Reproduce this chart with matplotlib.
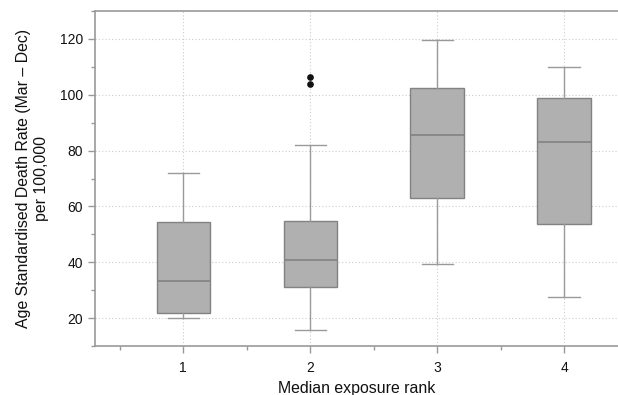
import matplotlib
matplotlib.use("Agg")
import matplotlib.pyplot as plt
from matplotlib.ticker import MultipleLocator

plt.rcParams['font.family'] = ['Liberation Sans', 'DejaVu Sans']

categories = ["1", "2", "3", "4"]
lower_whisker = [20.0, 15.8, 39.3, 27.6]
q1 = [22.0, 31.2, 62.9, 53.6]
median = [33.3, 40.7, 85.7, 83.2]
q3 = [54.3, 54.75, 102.4, 98.7]
upper_whisker = [72.1, 82.1, 119.5, 110.0]
outliers = [[], [103.9, 106.3], [], []]

stats = []
for i, c in enumerate(categories):
    stats.append(dict(label=c, whislo=lower_whisker[i], q1=q1[i], med=median[i],
                      q3=q3[i], whishi=upper_whisker[i], fliers=outliers[i]))

fig = plt.figure(figsize=(6.18, 3.95), dpi=100)
ax = fig.add_axes([95/618, 49/395, 1 - 95/618, (346-11)/395])

positions = [1, 2, 3, 4]
ax.bxp(stats, positions=positions, widths=0.42, patch_artist=True,
       boxprops=dict(facecolor='#b0b0b0', edgecolor='#828282', linewidth=1.0),
       medianprops=dict(color='#828282', linewidth=1.2),
       whiskerprops=dict(color='#9a9a9a', linewidth=1.0),
       capprops=dict(color='#9a9a9a', linewidth=1.0),
       capwidths=0.245,
       flierprops=dict(marker='o', markerfacecolor='#111111', markeredgecolor='#111111',
                       markersize=3.8, linestyle='none'),
       zorder=3)

ax.set_xlim(0.305, 4.425)
ax.set_ylim(10, 130)
ax.set_xticks(positions)
ax.set_xticklabels(categories)
ax.xaxis.set_minor_locator(MultipleLocator(1.0, offset=0.5))
ax.set_yticks([20, 40, 60, 80, 100, 120])
ax.yaxis.set_minor_locator(MultipleLocator(10))

ax.grid(True, which='major', color='#cccccc', linestyle=(0, (1, 2)), linewidth=0.8, zorder=0)
ax.set_axisbelow(True)

ax.spines['right'].set_visible(False)
for s in ['left', 'bottom', 'top']:
    ax.spines[s].set_color('#999999')
    ax.spines[s].set_linewidth(1.2)

ax.tick_params(axis='both', which='major', direction='out', length=5, width=1,
               color='#999999', labelsize=10, labelcolor='#111111')
ax.tick_params(axis='both', which='minor', direction='out', length=3, width=1,
               color='#999999')
ax.tick_params(axis='x', which='major', pad=6)

ax.set_xlabel("Median exposure rank", fontsize=11.4, color='#111111', labelpad=4)
ax.set_ylabel("Age Standardised Death Rate (Mar \u2013 Dec)\nper 100,000",
              fontsize=11.4, color='#111111', labelpad=8, linespacing=1.2)

fig.savefig("out.png", dpi=100)
